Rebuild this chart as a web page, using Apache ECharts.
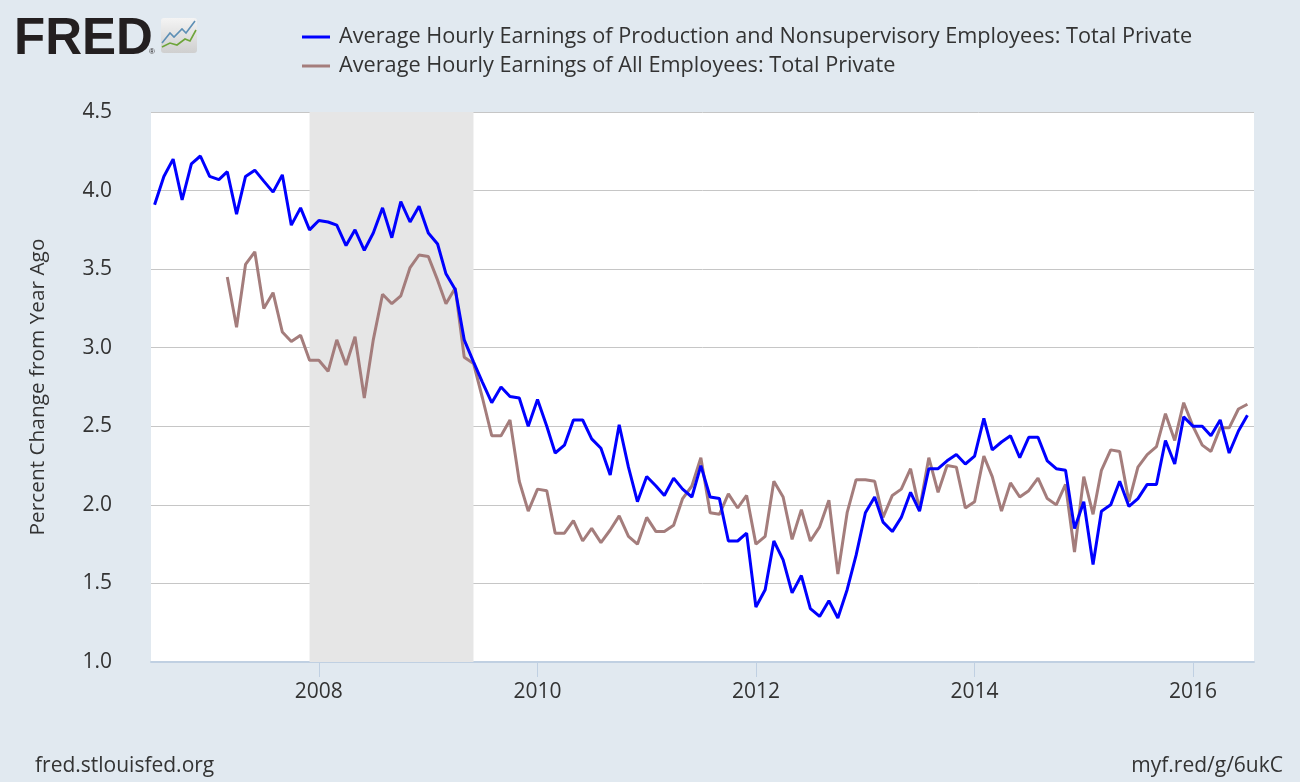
<!DOCTYPE html>
<html>
<head>
<meta charset="utf-8">
<script src="https://cdn.jsdelivr.net/npm/echarts@6/dist/echarts.min.js"></script>
<style>
html,body{margin:0;padding:0;background:#e1e9f0;}
#chart{width:1300px;height:782px;}
</style>
</head>
<body>
<div id="chart"></div>
<script>
// ---- Data ----
const seriesNames = [
  'Average Hourly Earnings of Production and Nonsupervisory Employees: Total Private',
  'Average Hourly Earnings of All Employees: Total Private'
];
const productionStart = [2006, 7];   // first month of production series
const allStart = [2007, 3];          // first month of all-employees series
const productionValues = [
  3.91,4.09,4.20,3.94,4.17,4.22,
  4.09,4.07,4.12,3.85,4.09,4.13,4.06,3.99,4.10,3.78,3.89,3.75,
  3.81,3.80,3.78,3.65,3.75,3.62,3.73,3.89,3.70,3.93,3.80,3.90,
  3.73,3.66,3.47,3.37,3.05,2.91,2.78,2.65,2.75,2.69,2.68,2.50,
  2.67,2.50,2.33,2.38,2.54,2.54,2.42,2.36,2.19,2.51,2.24,2.02,
  2.18,2.12,2.06,2.17,2.10,2.05,2.25,2.05,2.04,1.77,1.77,1.82,
  1.35,1.46,1.77,1.65,1.44,1.55,1.34,1.29,1.39,1.28,1.46,1.68,
  1.95,2.05,1.89,1.83,1.92,2.08,1.96,2.23,2.23,2.28,2.32,2.26,
  2.31,2.55,2.35,2.40,2.44,2.30,2.43,2.43,2.28,2.23,2.22,1.85,
  2.02,1.62,1.96,2.00,2.15,1.99,2.04,2.13,2.13,2.41,2.26,2.56,
  2.50,2.50,2.44,2.54,2.33,2.47,2.57
];
const allValues = [
  3.45,3.13,3.53,3.61,3.25,3.35,3.10,3.04,3.08,2.92,
  2.92,2.85,3.05,2.89,3.07,2.68,3.05,3.34,3.28,3.33,3.51,3.59,
  3.58,3.43,3.28,3.38,2.94,2.90,2.68,2.44,2.44,2.54,2.15,1.96,
  2.10,2.09,1.82,1.82,1.90,1.77,1.85,1.76,1.84,1.93,1.80,1.75,
  1.92,1.83,1.83,1.87,2.04,2.12,2.30,1.95,1.94,2.07,1.98,2.06,
  1.75,1.80,2.15,2.05,1.78,1.97,1.77,1.86,2.03,1.56,1.95,2.16,
  2.16,2.15,1.92,2.06,2.10,2.23,1.97,2.30,2.08,2.25,2.24,1.98,
  2.02,2.31,2.18,1.96,2.14,2.05,2.09,2.17,2.04,2.00,2.13,1.70,
  2.18,1.94,2.22,2.35,2.34,2.02,2.24,2.32,2.37,2.58,2.41,2.65,
  2.50,2.38,2.34,2.49,2.49,2.61,2.64
];
const yearTicks = ['2008','2010','2012','2014','2016'];
const recession = ['2007-12-01','2009-06-01'];
const xRange = ['2006-06-19','2016-07-23'];
const yTickLabels = ['1.0','1.5','2.0','2.5','3.0','3.5','4.0','4.5'];

// ---- Helpers ----
const ts = s => Date.UTC(+s.slice(0,4), +s.slice(5,7)-1, +s.slice(8,10));
function monthly(start, values){
  return values.map((v,i)=>{
    const t = (start[0]*12 + (start[1]-1)) + i;
    return [Date.UTC(Math.floor(t/12), t%12, 1), v];
  });
}
const tickTimes = yearTicks.map(y => Date.UTC(+y, 0, 1));

const FONT = '"Open Sans", "Noto Sans", sans-serif';
const chart = echarts.init(document.getElementById('chart'), null, {renderer:'canvas'});
chart.setOption({
  backgroundColor: '#e1e9f0',
  animation: false,
  textStyle: {fontFamily: FONT},
  grid: {left: 151, right: 46, top: 112, bottom: 120, show: true, backgroundColor: '#ffffff', borderWidth: 0},
  legend: {
    orient: 'vertical', left: 297, top: 21, itemGap: 7,
    itemWidth: 28, itemHeight: 3, icon: 'rect',
    textStyle: {fontFamily: FONT, fontSize: 21.7, color: '#333', padding: [0,0,0,4]},
    data: seriesNames
  },
  xAxis: {
    type: 'value',
    min: ts(xRange[0]), max: ts(xRange[1]),
    axisLine: {show: true, onZero: false, lineStyle: {color: '#c0d0e2', width: 2}},
    axisTick: {show: true, length: 15, lineStyle: {color: '#c0d0e2', width: 1}, customValues: tickTimes},
    axisLabel: {
      customValues: tickTimes, margin: 20,
      fontFamily: FONT, fontSize: 21, color: '#333',
      formatter: v => String(new Date(v).getUTCFullYear())
    },
    splitLine: {show: false}
  },
  yAxis: {
    type: 'value', min: 1, max: 4.5, interval: 0.5,
    name: 'Percent Change from Year Ago', nameLocation: 'middle', nameGap: 102,
    nameTextStyle: {fontFamily: FONT, fontSize: 20.8, color: '#333'},
    axisLine: {show: false}, axisTick: {show: false},
    axisLabel: {margin: 39, fontFamily: FONT, fontSize: 21, color: '#333',
      formatter: v => yTickLabels[Math.round((v-1)/0.5)]},
    splitLine: {show: true, lineStyle: {color: '#c6c6c6', width: 1}}
  },
  series: [
    {
      type: 'line', name: '_recession', data: [], silent: true, z: 1,
      markArea: {silent: true, itemStyle: {color: '#e6e6e6'},
        data: [[{xAxis: ts(recession[0])}, {xAxis: ts(recession[1])}]]}
    },
    {
      type: 'line', name: seriesNames[0], data: monthly(productionStart, productionValues),
      showSymbol: false, z: 3, color: '#0000ff',
      lineStyle: {color: '#0000ff', width: 3}
    },
    {
      type: 'line', name: seriesNames[1], data: monthly(allStart, allValues),
      showSymbol: false, z: 2, color: '#a47d7c',
      lineStyle: {color: '#a47d7c', width: 3}
    }
  ],
  graphic: [
    {type: 'text', left: 14, top: 14, z: 10,
      style: {text: 'FRED', fontFamily: '"Liberation Sans", Arial, sans-serif', fontWeight: 'bold', fontSize: 51, fill: '#231f20'}},
    {type: 'text', x: 152, y: 52, z: 10,
      style: {text: '®', fontFamily: '"Liberation Sans", Arial, sans-serif', fontSize: 8, fill: '#231f20', align: 'center', verticalAlign: 'middle'}},
    {type: 'rect', shape: {x: 161, y: 18, width: 36, height: 35, r: 3}, z: 10,
      style: {fill: new echarts.graphic.LinearGradient(0,0,0,1,[{offset:0,color:'#f4f4f4'},{offset:1,color:'#cfcfcf'}])}},
    {type: 'polyline', z: 11, shape: {points: [[162,43],[170,33],[174,37],[182,29],[186,33],[195,21]]},
      style: {stroke: '#5d8fb5', lineWidth: 1.6, fill: null}},
    {type: 'polyline', z: 11, shape: {points: [[162,47],[170,43],[177,45],[185,39],[190,41],[196,30]]},
      style: {stroke: '#6ea53b', lineWidth: 1.6, fill: null}},
    {type: 'text', left: 35, top: 756,
      style: {text: 'fred.stlouisfed.org', fontFamily: FONT, fontSize: 21, fill: '#333'}},
    {type: 'text', right: 17, top: 756,
      style: {text: 'myf.red/g/6ukC', fontFamily: FONT, fontSize: 21, fill: '#333'}}
  ]
});
</script>
</body>
</html>
